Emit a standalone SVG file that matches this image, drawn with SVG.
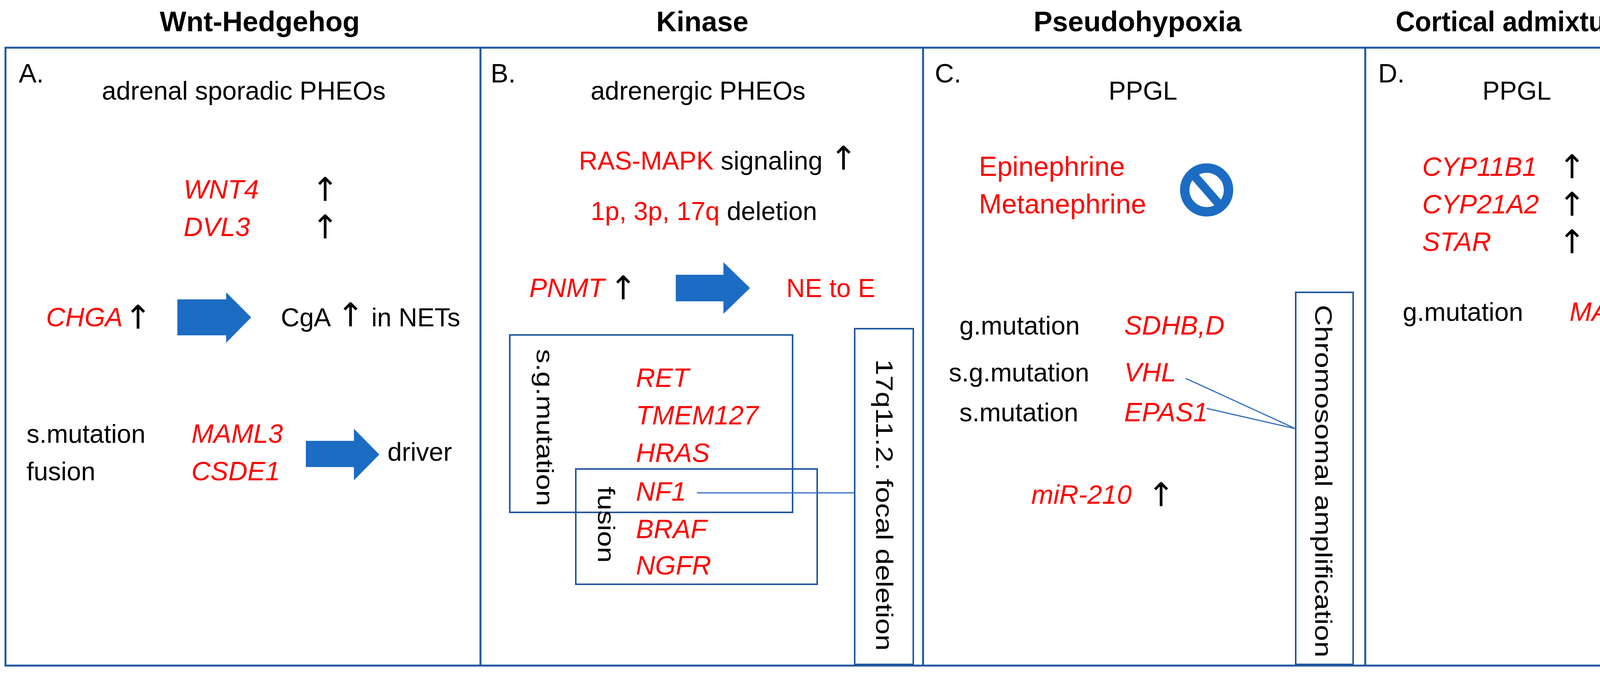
<svg xmlns="http://www.w3.org/2000/svg" width="4272" height="1722" viewBox="0 0 4272 1722">
<style>
text{font-family:"Liberation Sans",Arial,sans-serif;font-size:66px;fill:#000}
.t{font-weight:bold;font-size:72px;text-anchor:middle}
.lab{font-size:68px}
.g{font-style:italic;fill:#f00;font-size:68px}
.r{fill:#f00}
.up{font-family:"DejaVu Sans",sans-serif;font-size:84px}
.frame{fill:none;stroke:#2158a0;stroke-width:5}
.box{fill:none;stroke:#2158a0;stroke-width:4}
.big{fill:#1c6cc4}
.ln{stroke:#2f6fc0;stroke-width:3;fill:none}
.rot{font-size:62px}
</style>
<rect class="frame" x="14" y="122" width="4236" height="1581"/>
<line class="frame" x1="1230" y1="122" x2="1230" y2="1703"/>
<line class="frame" x1="2363" y1="122" x2="2363" y2="1703"/>
<line class="frame" x1="3495" y1="122" x2="3495" y2="1703"/>

<g id="titles">
<text class="t" x="665" y="80">Wnt-Hedgehog</text>
<text class="t" x="1798" y="80">Kinase</text>
<text class="t" x="2912" y="80">Pseudohypoxia</text>
<text class="t" x="3873" y="80" textLength="600" lengthAdjust="spacingAndGlyphs">Cortical admixture</text>
</g>

<g id="panelA">
<text class="lab" x="48" y="211">A.</text>
<text x="624" y="255" text-anchor="middle">adrenal sporadic PHEOs</text>
<text class="g" x="470" y="508">WNT4</text>
<text class="up" x="797" y="514">↑</text>
<text class="g" x="470" y="604">DVL3</text>
<text class="up" x="797" y="610">↑</text>
<text class="g" x="118" y="835">CHGA</text>
<text class="up" x="318" y="841">↑</text>
<path class="big" d="M454 766H579V748L643 812L579 877V858H454Z"/>
<text x="719" y="835">CgA <tspan class="up">↑</tspan> in NETs</text>
<text x="68" y="1133">s.mutation</text>
<text class="g" x="490" y="1133">MAML3</text>
<text x="68" y="1229">fusion</text>
<text class="g" x="490" y="1229">CSDE1</text>
<path class="big" d="M783 1128H906V1097L971 1163L906 1229V1195H783Z"/>
<text x="992" y="1179">driver</text>
</g>

<g id="panelB">
<text class="lab" x="1256" y="211">B.</text>
<text x="1787" y="255" text-anchor="middle">adrenergic PHEOs</text>
<text x="1482" y="434"><tspan class="r">RAS-MAPK</tspan> signaling <tspan class="up">↑</tspan></text>
<text x="1512" y="563"><tspan class="r">1p, 3p, 17q</tspan> deletion</text>
<text class="g" x="1355" y="760">PNMT</text>
<text class="up" x="1560" y="766">↑</text>
<path class="big" d="M1730 703H1852V671L1920 737L1852 803V771H1730Z"/>
<text class="r" x="2013" y="760">NE to E</text>
<rect class="box" x="1305" y="857" width="724" height="454"/>
<rect class="box" x="1474" y="1200" width="618" height="295"/>
<text class="rot" transform="translate(1374,893) rotate(90)" textLength="402" lengthAdjust="spacingAndGlyphs">s.g.mutation</text>
<text class="rot" transform="translate(1531,1245) rotate(90)" textLength="195" lengthAdjust="spacingAndGlyphs">fusion</text>
<text class="g" x="1628" y="990">RET</text>
<text class="g" x="1628" y="1086">TMEM127</text>
<text class="g" x="1628" y="1182">HRAS</text>
<text class="g" x="1628" y="1281">NF1</text>
<text class="g" x="1628" y="1377">BRAF</text>
<text class="g" x="1628" y="1470">NGFR</text>
<rect class="box" x="2188" y="841" width="150" height="859"/>
<text class="rot" transform="translate(2243,919) rotate(90)" textLength="746" lengthAdjust="spacingAndGlyphs">17q11.2. focal deletion</text>
</g>

<g id="panelC">
<text class="lab" x="2393" y="211">C.</text>
<text x="2926" y="255" text-anchor="middle">PPGL</text>
<text class="r" x="2506" y="450" style="font-size:70px">Epinephrine</text>
<text class="r" x="2506" y="546" style="font-size:70px">Metanephrine</text>
<g id="nosign">
<circle cx="3089" cy="486" r="56" fill="none" stroke="#1c6cc4" stroke-width="24"/>
<line x1="3054" y1="446" x2="3124" y2="526" stroke="#1c6cc4" stroke-width="22"/>
</g>
<text x="2456" y="856">g.mutation</text>
<text class="g" x="2878" y="856">SDHB,D</text>
<text x="2429" y="976">s.g.mutation</text>
<text class="g" x="2878" y="976">VHL</text>
<text x="2456" y="1078">s.mutation</text>
<text class="g" x="2878" y="1078">EPAS1</text>
<text class="g" x="2640" y="1289">miR-210</text>
<text class="up" x="2937" y="1295">↑</text>
<rect class="box" x="3317" y="748" width="147" height="952"/>
<text class="rot" transform="translate(3367,780) rotate(90)" textLength="902" lengthAdjust="spacingAndGlyphs">Chromosomal amplification</text>
</g>

<g id="panelD">
<text class="lab" x="3528" y="211">D.</text>
<text x="3883" y="255" text-anchor="middle">PPGL</text>
<text class="g" x="3641" y="450">CYP11B1</text>
<text class="up" x="3989" y="456">↑</text>
<text class="g" x="3641" y="546">CYP21A2</text>
<text class="up" x="3989" y="552">↑</text>
<text class="g" x="3641" y="642">STAR</text>
<text class="up" x="3989" y="648">↑</text>
<text x="3591" y="821">g.mutation</text>
<text class="g" x="4018" y="821">MAX</text>
</g>

<g id="connectors">
<line class="ln" x1="1784" y1="1261" x2="2188" y2="1261"/>
<line class="ln" x1="3035" y1="968" x2="3317" y2="1097"/>
<line class="ln" x1="3089" y1="1045" x2="3317" y2="1097"/>
</g>
</svg>
